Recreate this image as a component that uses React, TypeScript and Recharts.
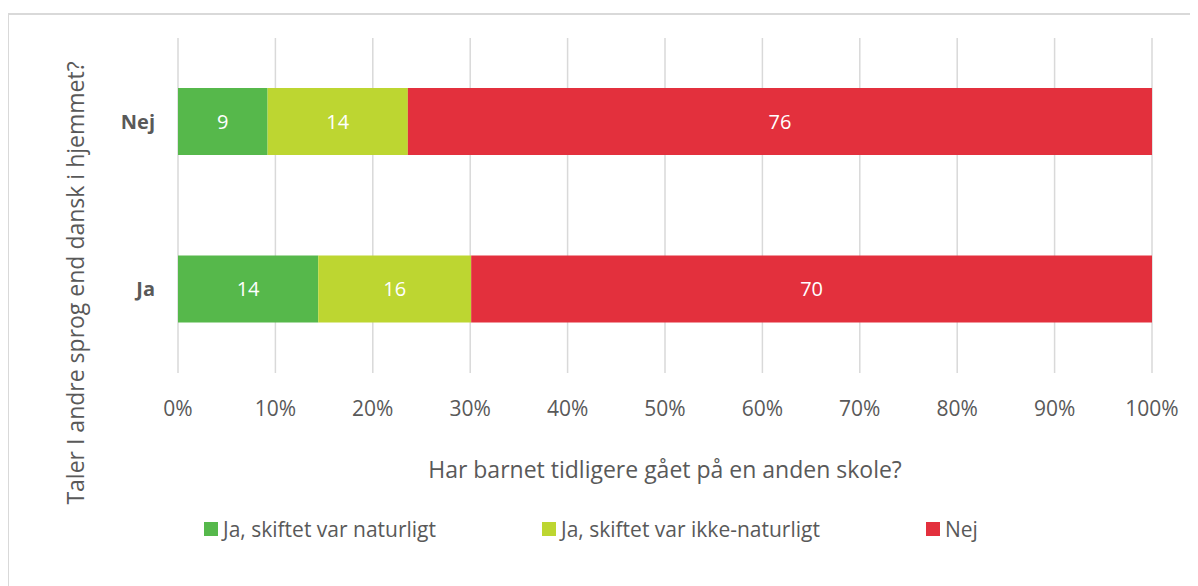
import { Bar, BarChart, CartesianGrid, LabelList, XAxis, YAxis } from "recharts"

// Share of pupils (%) per answer; labels are rounded in the bars
const categories = ["Nej", "Ja"]
const naturligt = [9.2, 14.4]
const ikkeNaturligt = [14.4, 15.7]
const nej = [76.4, 69.9]
const xTicks = [0, 10, 20, 30, 40, 50, 60, 70, 80, 90, 100]

const SERIES = [
  { key: "naturligt", name: "Ja, skiftet var naturligt", color: "#56B84B" },
  { key: "ikkeNaturligt", name: "Ja, skiftet var ikke-naturligt", color: "#BDD631" },
  { key: "nej", name: "Nej", color: "#E3303D" },
]

const FONT = "'Open Sans', sans-serif"
const TEXT = "#595959"

const data = categories.map((c, i) => ({
  cat: c,
  naturligt: naturligt[i],
  ikkeNaturligt: ikkeNaturligt[i],
  nej: nej[i],
}))

// legend item offsets, measured from the page's left edge
const LEGEND_X = [204, 542, 926]

// y title is centred on the whole chart box, not the plot area
function YTitle() {
  return (
    <text
      x={75}
      y={283}
      transform="rotate(-90 75 283)"
      textAnchor="middle"
      dominantBaseline="central"
      fill={TEXT}
      fontSize={23}
      fontFamily={FONT}
    >
      Taler I andre sprog end dansk i hjemmet?
    </text>
  )
}

export default function App() {
  return (
    <div
      style={{
        position: "relative",
        width: 1198,
        height: 586,
        marginLeft: -8,
        marginTop: -8,
        overflow: "hidden",
        background: "#fff",
        fontFamily: FONT,
      }}
    >
      <div style={{ position: "absolute", left: 0, top: 0 }}>
        <BarChart
          width={1198}
          height={586}
          data={data}
          layout="vertical"
          margin={{ top: 38, right: 46, left: 0, bottom: 103 }}
        >
          <CartesianGrid horizontal={false} stroke="#d9d9d9" strokeWidth={1.5} />
          <XAxis
            type="number"
            domain={[0, 100]}
            ticks={xTicks}
            tickFormatter={(v) => `${v}%`}
            axisLine={false}
            tickLine={false}
            tickSize={0}
            tickMargin={28}
            height={110}
            tick={{ fill: TEXT, fontSize: 21, fontFamily: FONT }}
            label={{
              value: "Har barnet tidligere gået på en anden skole?",
              position: "insideBottom",
              offset: 5,
              fill: TEXT,
              fontSize: 23,
              fontFamily: FONT,
            }}
          />
          <YAxis
            type="category"
            dataKey="cat"
            width={178}
            axisLine={false}
            tickLine={false}
            tickSize={0}
            tickMargin={23}
            tick={{ fill: TEXT, fontSize: 20, fontWeight: 700, fontFamily: FONT }}
            label={{ content: () => <YTitle /> }}
          />
          {SERIES.map((s) => (
            <Bar
              key={s.key}
              dataKey={s.key}
              name={s.name}
              stackId="a"
              fill={s.color}
              barSize={67}
              isAnimationActive={false}
            >
              <LabelList
                dataKey={s.key}
                position="center"
                formatter={(v: any) => Math.round(Number(v))}
                fill="#fff"
                fontSize={20}
                fontFamily={FONT}
              />
            </Bar>
          ))}
        </BarChart>
      </div>
      {SERIES.map((s, i) => (
        <div
          key={s.key}
          style={{
            position: "absolute",
            left: LEGEND_X[i],
            top: 515,
            height: 28,
            display: "flex",
            alignItems: "center",
            gap: 5,
            fontSize: 21,
            color: TEXT,
            whiteSpace: "nowrap",
          }}
        >
          <span style={{ width: 14, height: 14, background: s.color, display: "inline-block" }} />
          <span>{s.name}</span>
        </div>
      ))}
      {/* chart frame: only top and left edges fall inside the picture */}
      <div
        style={{
          position: "absolute",
          left: 7,
          top: 13,
          width: 1300,
          height: 2,
          background: "#d9d9d9",
          pointerEvents: "none",
        }}
      />
      <div
        style={{
          position: "absolute",
          left: 7,
          top: 13,
          width: 2,
          height: 700,
          background: "#d9d9d9",
          pointerEvents: "none",
        }}
      />
    </div>
  )
}
